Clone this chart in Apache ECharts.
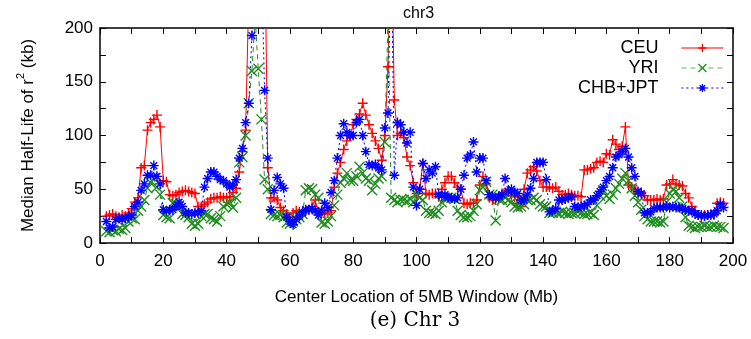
<!DOCTYPE html>
<html><head><meta charset="utf-8">
<script src="https://cdn.jsdelivr.net/npm/echarts@6/dist/echarts.min.js"></script>
<style>html,body{margin:0;padding:0;background:#fff}#c{width:751px;height:339px}</style>
</head><body><div id="c"></div>
<script>
const positions = [
  2,3,4,5,6,7,8,9,10,11,12,13,14,15,16,17,18,19,20,21,
  22,23,24,25,26,27,28,29,30,31,32,33,34,35,36,37,38,39,40,41,
  42,43,44,45,46,47,48,49,50,51,52,53,54,55,56,57,58,59,60,61,
  62,63,64,65,66,67,68,69,70,71,72,73,74,75,76,77,78,79,80,81,
  82,83,84,85,86,87,88,89,90,91,92,93,94,95,96,97,98,99,100,101,
  102,103,104,105,106,107,108,109,110,111,112,113,114,115,116,117,118,119,120,121,
  122,123,124,125,126,127,128,129,130,131,132,133,134,135,136,137,138,139,140,141,
  142,143,144,145,146,147,148,149,150,151,152,153,154,155,156,157,158,159,160,161,
  162,163,164,165,166,167,168,169,170,171,172,173,174,175,176,177,178,179,180,181,
  182,183,184,185,186,187,188,189,190,191,192,193,194,195,196,197
];
const ceu = [
  25,26,27,25,24,26,25,28,32,38, 42,70,72,105,112,115,119,108,58,57,
  45,44,45,47,48,49,48,47,46,34, 34,36,38,41,42,42,43,42,42,43,
  47,51,66,85,105,230,300,300,300,300, 300,70,42,42,40,33,30,27,24,28,
  30,29,29,30,31,34,40,29,28,27, 28,30,52,65,75,87,95,100,110,115,
  120,130,119,110,102,95,88,77,100,164, 300,133,100,102,98,80,72,56,46,50,
  74,46,45,46,46,43,50,56,62,62, 56,52,50,37,36,37,37,40,54,62,
  55,42,40,40,42,46,47,49,44,43, 37,34,50,65,68,71,67,58,52,52,
  52,51,52,48,45,45,46,45,44,44, 43,68,68,69,70,75,76,75,83,82,
  96,92,87,90,108,54,52,50,46,47, 44,40,40,40,41,40,41,54,55,59,
  55,54,53,46,42,34,30,26,24,26, 26,27,26,37,38,37
];
const yri = [
  11,10,12,11,13,12,14,20,23,22, 30,34,40,51,56,60,52,45,26,24,
  23,37,36,35,27,26,24,18,16,18, 25,27,27,23,22,20,25,34,36,38,
  33,42,75,80,100,130,160,210,162,115, 59,50,27,26,25,26,24,19,18,20,
  22,24,27,49,51,50,45,42,19,18, 20,25,35,45,56,60,65,58,58,62,
  71,65,60,58,49,55,60,62,94,210, 42,40,38,40,40,39,41,38,45,42,
  40,30,28,28,27,30,38,42,42,42, 41,30,26,24,24,25,30,36,49,52,
  57,45,45,21,41,40,42,40,38,34, 33,34,36,40,40,42,40,36,34,34,
  28,28,29,28,29,28,27,28,28,29, 28,27,27,28,26,35,44,49,44,41,
  45,51,55,60,65,58,51,44,38,31, 25,22,20,20,20,19,20,38,46,50,
  48,42,34,24,16,15,14,15,15,16, 15,15,16,15,15,14
];
const chbjpt = [
  20,14,15,22,23,22,23,24,26,34, 38,49,55,63,63,72,62,55,31,30,
  31,31,34,38,34,28,28,27,28,28, 30,52,60,66,66,62,59,58,55,52,
  54,59,79,88,112,130,193,260,260,260, 142,79,31,49,61,55,51,24,20,17,
  22,25,28,31,31,32,30,26,30,37, 33,47,58,79,100,111,103,100,100,112,
  115,100,85,73,72,73,70,68,107,121, 280,63,112,110,103,93,103,52,35,50,
  74,60,68,65,71,45,44,45,42,42, 41,42,50,63,79,82,94,66,79,79,
  58,45,43,42,43,45,60,48,50,47, 46,40,40,45,51,60,75,75,75,59,
  29,30,32,40,40,41,42,43,34,33, 34,35,36,40,40,44,48,52,58,62,
  70,80,82,85,88,80,70,62,48,46, 28,28,29,32,33,33,33,34,33,34,
  33,33,32,31,30,30,27,26,26,25, 26,26,27,30,36,33
];
const seriesNames = ['CEU', 'YRI', 'CHB+JPT'];
const seriesValues = [ceu, yri, chbjpt];
const seriesColors = ['#ff0000', '#1e8c1e', '#0000ff'];
const legendColors = ['#ff0000', '#5cb85c', '#0000ff'];
const symbols = [
  'path://M0,5L10,5M5,0L5,10',
  'path://M0,0L10,10M10,0L0,10',
  'path://M0,5L10,5M5,0L5,10M1.6,1.6L8.4,8.4M8.4,1.6L1.6,8.4'
];
const lineTypes = ['solid', [5, 4], [2, 3]];
const xLabelStep = 20;
const yLabelStep = 50;

const FONT = 'Liberation Sans, Arial, sans-serif';
const chart = echarts.init(document.getElementById('c'), null, {renderer: 'canvas'});

const axisCommon = {
  axisLine: {show: true, onZero: false, lineStyle: {color: '#000', width: 1.5}},
  axisTick: {show: true, inside: true, length: 6, lineStyle: {color: '#000', width: 1}},
  splitLine: {show: false}
};

const series = seriesNames.map((n, i) => ({
  name: n,
  type: 'line',
  data: positions.map((p, j) => [p, seriesValues[i][j]]),
  symbol: symbols[i],
  symbolSize: 10,
  showSymbol: true,
  clip: true,
  color: seriesColors[i],
  itemStyle: {color: seriesColors[i], borderColor: seriesColors[i], borderWidth: 1.4},
  lineStyle: {color: seriesColors[i], width: 1, type: lineTypes[i]},
  emphasis: {disabled: true},
  animation: false
}));

const legendTops = [39, 59, 79];
const legends = seriesNames.map((n, i) => ({
  data: [{name: n, itemStyle: {color: seriesColors[i], borderColor: seriesColors[i], borderWidth: 1.3},
          lineStyle: {color: legendColors[i], width: 1.2, type: lineTypes[i]}}],
  right: 27,
  top: legendTops[i],
  align: 'right',
  orient: 'vertical',
  padding: 0,
  itemWidth: 42,
  itemHeight: 10,
  selectedMode: false,
  textStyle: {fontFamily: FONT, fontSize: 18, color: '#000', padding: [0, 18, 0, 0]}
}));

chart.setOption({
  animation: false,
  backgroundColor: '#fff',
  title: {text: 'chr3', left: 398, top: 1, textStyle: {fontFamily: FONT, fontSize: 16, fontWeight: 'normal', color: '#000'}},
  legend: legends,
  grid: {left: 100, right: 18, top: 28, bottom: 96, containLabel: false},
  xAxis: [
    Object.assign({}, axisCommon, {
      type: 'value', min: 0, max: 200, interval: 10, position: 'bottom',
      axisLabel: {fontFamily: FONT, fontSize: 17, color: '#000', margin: 10,
        formatter: v => (v % xLabelStep === 0 ? String(v) : '')},
      name: 'Center Location of 5MB Window (Mb)', nameLocation: 'middle', nameGap: 46,
      nameTextStyle: {fontFamily: FONT, fontSize: 17, color: '#000'}
    }),
    Object.assign({}, axisCommon, {
      type: 'value', min: 0, max: 200, interval: 10, position: 'top',
      axisLabel: {show: false}
    })
  ],
  yAxis: [
    Object.assign({}, axisCommon, {
      type: 'value', min: 0, max: 200, interval: 25, position: 'left',
      axisLabel: {fontFamily: FONT, fontSize: 17, color: '#000', margin: 7,
        formatter: v => (v % yLabelStep === 0 ? String(v) : '')},
      name: '{n|Median Half-Life of r}{sup|2}{n| (kb)}', nameLocation: 'middle', nameGap: 63, nameRotate: 90,
      nameTextStyle: {fontFamily: FONT, fontSize: 17, color: '#000',
        rich: {
          n: {fontFamily: FONT, fontSize: 17, color: '#000', lineHeight: 22, verticalAlign: 'bottom'},
          sup: {fontFamily: FONT, fontSize: 11, color: '#000', lineHeight: 22, verticalAlign: 'top'}
        }}
    }),
    Object.assign({}, axisCommon, {
      type: 'value', min: 0, max: 200, interval: 25, position: 'right',
      axisLabel: {show: false}
    })
  ],
  graphic: [{
    type: 'text', x: 415, y: 311,
    style: {text: '(e) Chr 3', fontFamily: 'DejaVu Serif, Liberation Serif, serif', fontSize: 20, fill: '#000', textAlign: 'center'}
  }],
  series: series
});
</script>
</body></html>
